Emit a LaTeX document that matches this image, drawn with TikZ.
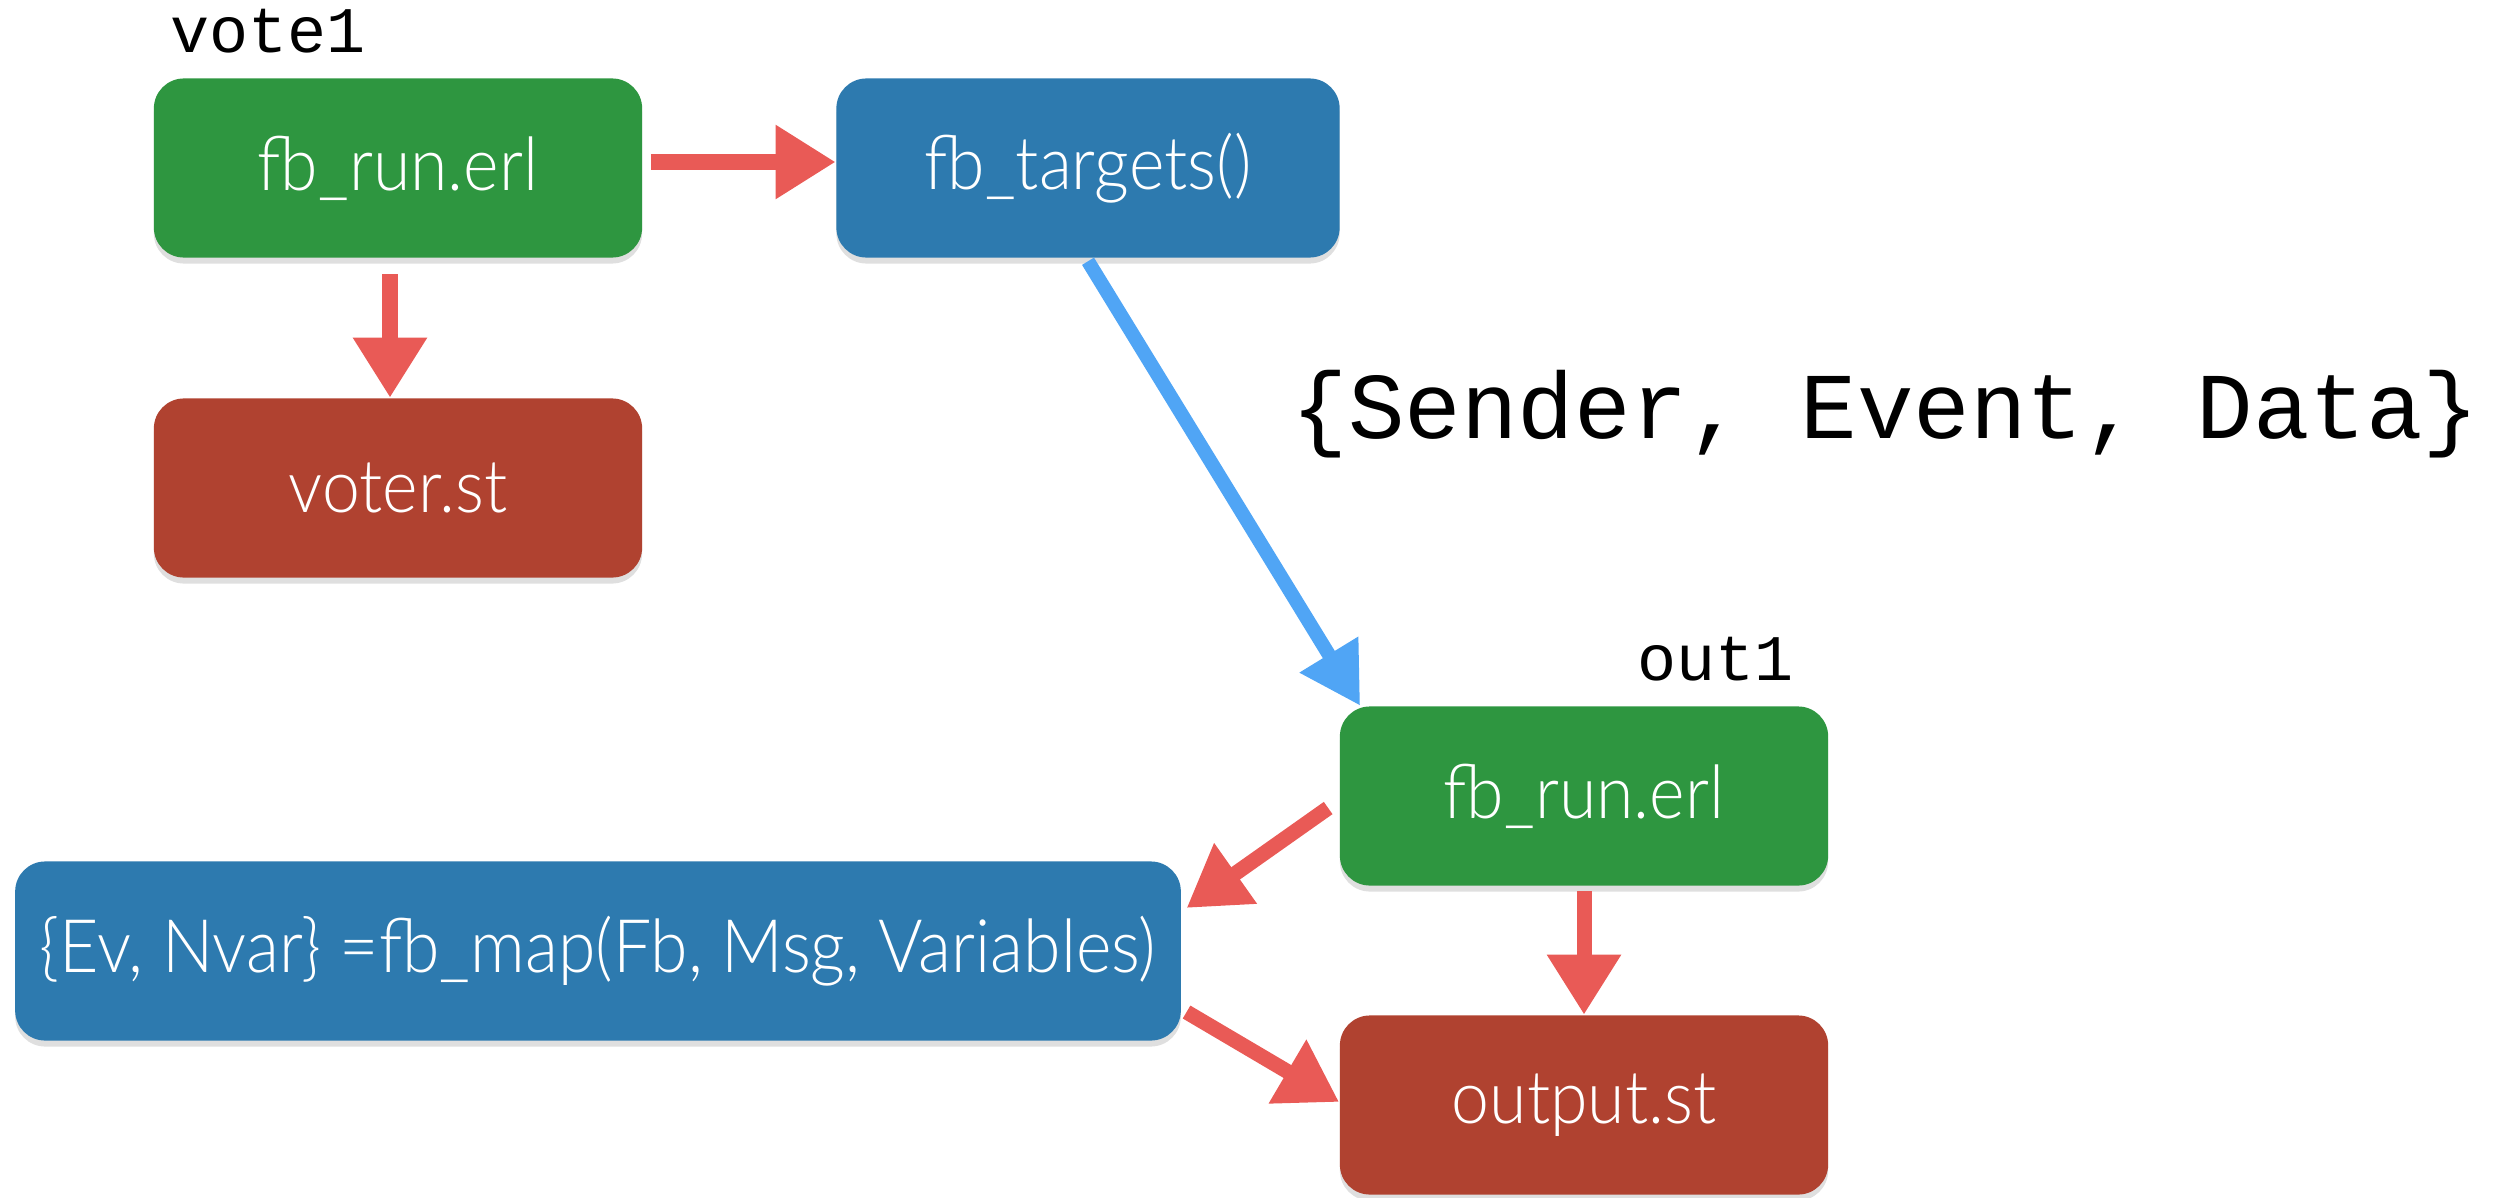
\documentclass[tikz,border=0pt]{standalone}
\usepackage{fontspec}
\setmainfont{Lato Light}[FakeStretch=0.92]
\setmonofont{Liberation Mono}
\usetikzlibrary{arrows.meta,shadows,positioning}

\definecolor{runGreen}{RGB}{46,150,64}
\definecolor{funBlue}{RGB}{45,122,175}
\definecolor{stateRed}{RGB}{176,66,48}
\definecolor{arrowRed}{RGB}{233,90,86}
\definecolor{arrowBlue}{RGB}{80,165,245}

\tikzset{
  box/.style={rounded corners=0.3cm, text=white, align=center,
    minimum height=1.79cm, inner sep=0pt,
    font=\fontsize{21pt}{25pt}\selectfont,
    drop shadow={shadow xshift=0pt, shadow yshift=-0.06cm, opacity=0.25}},
  runbox/.style={box, fill=runGreen, minimum width=4.88cm},
  funbox/.style={box, fill=funBlue},
  statebox/.style={box, fill=stateRed, minimum width=4.88cm},
  tag/.style={font=\ttfamily\fontsize{18.5pt}{22pt}\selectfont, inner sep=0pt, anchor=base west},
  flow/.style={line width=0.15cm, draw=arrowRed,
    -{Triangle[width=0.7cm, length=0.6cm]}},
  msgflow/.style={line width=0.14cm, draw=arrowBlue,
    -{Triangle[width=0.65cm, length=0.6cm]}}
}

\begin{document}
\begin{tikzpicture}[x=0.01cm, y=-0.01cm]
  \useasboundingbox (0,0) rectangle (2519,1197);

  % voter process
  \node[tag] (vote) at (170,53) {vote1};
  \node[runbox] (run1) at (398,168) {fb\_run.erl};
  \node[funbox, minimum width=5.03cm] (targets) at (1088,168) {fb\_targets()};
  \node[statebox] (voter) at (398,488) {voter.st};

  % message tuple
  \node[tag, font=\ttfamily\fontsize{26.8pt}{30pt}\selectfont] (msg) at (1291,438) {\{Sender, Event, Data\}};

  % output process
  \node[tag] (out) at (1637,680) {out1};
  \node[runbox] (run2) at (1584,796) {fb\_run.erl};
  \node[funbox, minimum width=11.65cm] (map) at (598,951) {\{Ev, Nvar\} =fb\_map(Fb, Msg, Variables)};
  \node[statebox] (output) at (1584,1105) {output.st};

  % connectors
  \draw[flow] ([xshift=0.08cm, yshift=0.06cm]run1.east) -- ([yshift=0.06cm]targets.west);
  \draw[flow] ([xshift=-0.08cm, yshift=-0.16cm]run1.south) -- ([xshift=-0.08cm]voter.north);
  \draw[msgflow] ([yshift=-0.03cm]targets.south) -- ([xshift=0.21cm]run2.north west);
  \draw[flow] ([xshift=-0.11cm, yshift=-0.12cm]run2.west) -- ([xshift=0.05cm, yshift=0.43cm]map.east);
  \draw[flow] ([yshift=-0.05cm]run2.south) -- (output.north);
  \draw[flow] ([xshift=0.05cm, yshift=-0.61cm]map.east) -- ([yshift=0.03cm]output.west);
\end{tikzpicture}
\end{document}
